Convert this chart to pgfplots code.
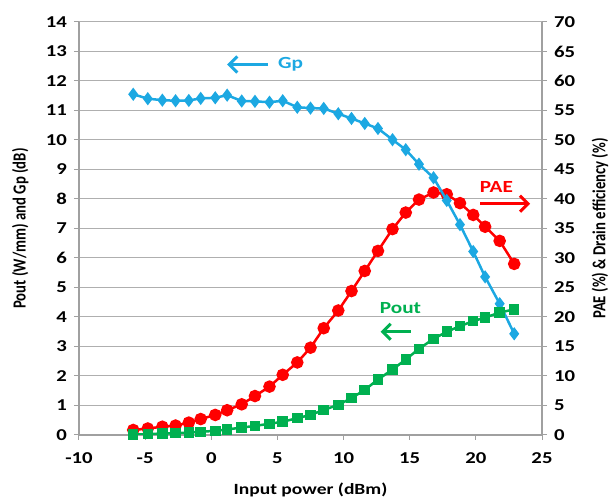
\documentclass[border=0pt]{standalone}
\usepackage{pgfplots}
\pgfplotsset{compat=1.18}
\usepackage{pgfplotstable}
\usepackage{fontspec}
\setmainfont{Carlito}
% the reference is stretched sideways: wide glyphs for horizontal text,
% narrow (but tall) glyphs for the rotated axis titles
\newfontfamily\hfont[FakeStretch=1.25]{Carlito}
\newfontfamily\vfont[FakeStretch=0.8]{Carlito}
\usetikzlibrary{arrows.meta}

\definecolor{gpblue}{RGB}{28,168,226}
\definecolor{poutgreen}{RGB}{0,176,80}
\definecolor{paered}{RGB}{255,0,0}
\definecolor{gridgray}{RGB}{175,175,175}
\definecolor{axgray}{RGB}{160,160,160}

% input power (dBm), Gp (dB), Pout (W/mm), PAE (%)
\pgfplotstableread{
x     gp     pout   pae
-5.9  11.55  0.01   0.85
-4.8  11.40  0.03   1.1
-3.7  11.35  0.05   1.4
-2.7  11.33  0.06   1.6
-1.7  11.34  0.08   2.1
-0.8  11.41  0.11   2.7
0.3   11.43  0.14   3.4
1.2   11.52  0.19   4.2
2.3   11.32  0.25   5.2
3.3   11.31  0.31   6.6
4.4   11.28  0.38   8.2
5.4   11.33  0.45   10.2
6.5   11.11  0.57   12.3
7.5   11.08  0.68   14.8
8.5   11.07  0.85   18.1
9.6   10.89  1.02   21.1
10.6  10.73  1.25   24.4
11.6  10.56  1.53   27.8
12.6  10.39  1.88   31.2
13.7  10.01  2.22   34.9
14.7  9.67   2.56   37.7
15.7  9.18   2.92   39.9
16.8  8.72   3.26   41.1
17.8  7.95   3.50   40.8
18.8  7.13   3.69   39.3
19.8  6.22   3.86   37.3
20.7  5.36   3.98   35.3
21.8  4.45   4.15   32.9
22.9  3.43   4.26   29.0
}\datatable

\pgfplotsset{
  base/.style={
    scale only axis,
    width=231.5pt, height=206.5pt,
    xmin=-10, xmax=25,
    tick align=outside,
    major tick length=2.5pt,
    tick style={axgray, line width=0.5pt},
    axis line style={axgray, line width=0.6pt},
    ticklabel style={font=\hfont\bfseries\fontsize{8.3}{9}\selectfont},
    xticklabel style={yshift=-3pt},
    /pgf/number format/assume math mode=true,
  },
}
\newcommand{\annfont}{\hfont\bfseries\fontsize{8.5}{9}\selectfont}

\begin{document}
\begin{tikzpicture}
% right axis: PAE (drawn first, carries the grid)
\begin{axis}[base,
    axis x line=none,
    axis y line*=right,
    ymin=0, ymax=70,
    ytick={0,5,...,70},
    ymajorgrids,
    grid style={gridgray, line width=0.5pt},
    ylabel={PAE (\%) \& Drain efficiency (\%)},
    ylabel style={at={(axis description cs:1.125,0.5)}, anchor=center,
      font=\vfont\bfseries\fontsize{9.2}{10}\selectfont},
  ]
  \addplot[paered, line width=1.25pt, mark=*, mark size=2.5pt] table[x=x, y=pae] {\datatable};
\end{axis}
% left axis: Gp and Pout
\begin{axis}[base, name=ax,
    axis x line*=bottom,
    axis y line*=left,
    ymin=0, ymax=14,
    ytick={0,1,...,14},
    xtick={-10,-5,...,25},
    xlabel={Input power (dBm)},
    ylabel={Pout (W/mm) and Gp (dB)},
    xlabel style={at={(axis description cs:0.5,-0.133)}, anchor=center,
      font=\hfont\bfseries\fontsize{7.8}{9}\selectfont},
    ylabel style={at={(axis description cs:-0.127,0.5)}, anchor=center,
      font=\vfont\bfseries\fontsize{9.2}{10}\selectfont},
  ]
  \addplot[gpblue, line width=1.25pt, mark=diamond*, mark size=2.3pt] table[x=x, y=gp] {\datatable};
  \addplot[poutgreen, line width=1.25pt, mark=square*, mark size=2pt] table[x=x, y=pout] {\datatable};

  \node[gpblue, font=\annfont] at (axis cs:6.0,12.56) {Gp};
  \draw[gpblue, line width=1.5pt, -{Straight Barb[length=4pt,width=8pt]}] (axis cs:4.3,12.56) -- (axis cs:1.2,12.56);
  \node[paered, font=\annfont] at (axis cs:21.55,8.39) {PAE};
  \draw[paered, line width=1.5pt, -{Straight Barb[length=4pt,width=8pt]}] (axis cs:20.35,7.84) -- (axis cs:24.1,7.84);
  \node[poutgreen, font=\annfont] at (axis cs:14.3,4.31) {Pout};
  \draw[poutgreen, line width=1.5pt, -{Straight Barb[length=4pt,width=8pt]}] (axis cs:15.07,3.5) -- (axis cs:12.8,3.5);
\end{axis}
\pgfresetboundingbox
\path ([xshift=-39.5pt,yshift=-33pt]ax.south west) rectangle ([xshift=36pt,yshift=11pt]ax.north east);
\end{tikzpicture}
\end{document}
